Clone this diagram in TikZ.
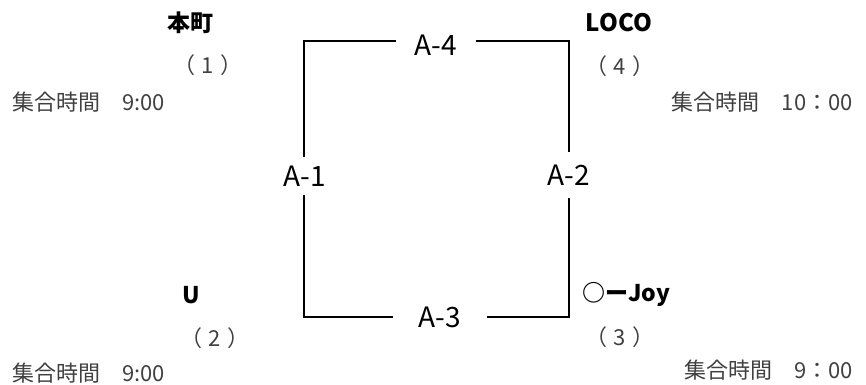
\documentclass[tikz,border=0pt]{standalone}
\usepackage{fontspec}
\setmainfont{Noto Sans CJK JP}
\usetikzlibrary{positioning}

\begin{document}
\begin{tikzpicture}[x=1pt,y=1pt,
	court/.style={inner sep=0pt,font=\fontsize{28}{28}\selectfont},
	team/.style={inner sep=0pt,font=\bfseries\fontsize{23}{23}\selectfont},
	seed/.style={inner sep=0pt,font=\fontsize{22}{22}\selectfont,text=black!75},
	meet/.style={inner sep=0pt,font=\fontsize{22}{22}\selectfont,text=black!75}]
	\useasboundingbox (0,0) rectangle (866,384);
	
	% corners of the square
	\coordinate (tl) at (304,343);
	\coordinate (tr) at (569,343);
	\coordinate (bl) at (304,67);
	\coordinate (br) at (569,67);
	
	\node[court, minimum width=79pt] (a4) at (436,339) {A-4};
	\node[court, minimum width=94pt] (a3) at (440,67) {A-3};
	\node[court, minimum height=37pt] (a1) at (305,208) {A-1};
	\node[court, minimum height=46pt] (a2) at (569,209) {A-2};
	
	\draw[line width=1.6pt] (a4.west |- tl) -- (tl) -- (tl |- a1.north);
	\draw[line width=1.6pt] (a4.east |- tr) -- (tr) -- (tr |- a2.north);
	\draw[line width=1.6pt] (a1.south -| bl) -- (bl) -- (a3.west |- bl);
	\draw[line width=1.6pt] (a2.south -| br) -- (br) -- (a3.east |- br);
	
	% teams
	\node[team] (honmachi) at (190,361) {本町};
	\node[seed] (s1) at (208,319) {（\hspace{6pt}1\hspace{6pt}）};
	\node[meet, anchor=west] (t1) at (12,282) {集合時間　9:00};
	
	\node[team, font=\bfseries\fontsize{24}{24}\selectfont] (loco) at (619,361) {LOCO};
	\node[seed] (s4) at (620,318) {（\hspace{6pt}4\hspace{6pt}）};
	\node[meet, anchor=east] (t4) at (853,282) {集合時間　10：00};
	
	\node[team] (u) at (191,89) {U};
	\node[seed] (s2) at (215,46) {（\hspace{6pt}2\hspace{6pt}）};
	\node[meet, anchor=west] (t2) at (12,11) {集合時間　9:00};
	
	\node[team] (joy) at (626,90) {○ーJoy};
	\node[seed] (s3) at (620,47) {（\hspace{6pt}3\hspace{6pt}）};
	\node[meet, anchor=east] (t3) at (853,14) {集合時間　9：00};
	
\end{tikzpicture}
\end{document}
